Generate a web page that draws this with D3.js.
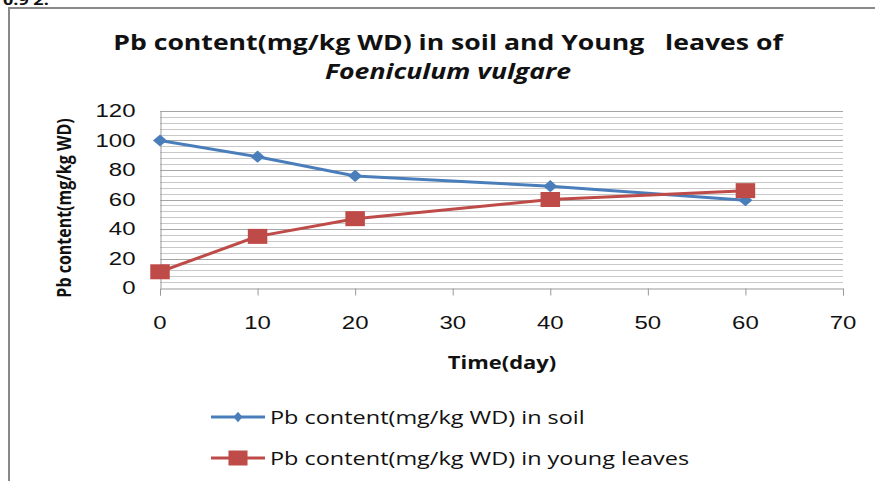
<!DOCTYPE html>
<html>
<head>
<meta charset="utf-8">
<script src="https://cdn.jsdelivr.net/npm/d3@7"></script>
<style>
  body { margin: 0; background: #fff; }
  svg { display: block; font-family: "Open Sans", "Noto Sans", sans-serif; }
</style>
</head>
<body>
<svg id="chart" width="875" height="481"></svg>
<script>
// data
const days = [0, 10, 20, 40, 60];
const soil = [100, 89, 76, 69, 59.5];
const youngLeaves = [11, 35, 47, 60, 66];
const xTicks = [0, 10, 20, 30, 40, 50, 60, 70];
const yTicks = [0, 20, 40, 60, 80, 100, 120];
const seriesNames = [
  "Pb content(mg/kg WD) in soil",
  "Pb content(mg/kg WD) in young leaves"
];
const colors = ["#4a7ebb", "#be4b48"];

// the source image is stretched sideways, so text is drawn wider than tall
function wideText(parent, x, y, str, size, sx, anchor) {
  return parent.append("g")
    .attr("transform", `translate(${x},${y}) scale(${sx},1)`)
    .append("text")
    .attr("text-anchor", anchor || "start")
    .style("font-size", size + "px")
    .attr("fill", "#111")
    .text(str);
}

const svg = d3.select("#chart");

// page frame and the cut-off caption above it
wideText(svg, 3, 5, "0.9 2.", 15, 1.2).style("font-weight", "bold");
svg.append("line").attr("x1", 8).attr("x2", 875).attr("y1", 8).attr("y2", 8)
  .attr("stroke", "#888").attr("stroke-width", 2);
svg.append("line").attr("x1", 9).attr("x2", 9).attr("y1", 8).attr("y2", 481)
  .attr("stroke", "#888").attr("stroke-width", 2);

// plot area
const margin = { top: 111, left: 160 };
const width = 683, height = 177;

const x = d3.scaleLinear().domain([0, 70]).range([0, width]);
const y = d3.scaleLinear().domain([0, 120]).range([height, 0]);

const chart = svg.append("g")
  .attr("transform", `translate(${margin.left},${margin.top})`);

// gridlines, minor every 4, major every 20
const gridVals = d3.range(4, 121, 4);
chart.append("g").selectAll("line")
  .data(gridVals)
  .join("line")
  .attr("x1", 0).attr("x2", width)
  .attr("y1", d => Math.round(y(d)) + 0.5).attr("y2", d => Math.round(y(d)) + 0.5)
  .attr("stroke", d => d % 20 === 0 ? "#a6a6a6" : "#c8c8c8");

// x axis
const xAxis = chart.append("g")
  .attr("transform", `translate(0,${height + 0.5})`)
  .call(d3.axisBottom(x).tickValues(xTicks).tickSize(7).tickFormat(""))
  .call(g => g.select(".domain").attr("stroke", "#999"))
  .call(g => g.selectAll(".tick line").attr("stroke", "#999"));
xTicks.forEach(t => {
  wideText(xAxis, x(t), 40, t, 17.5, 1.37, "middle");
});

// y axis
const yAxis = chart.append("g")
  .attr("transform", "translate(0.5,0)")
  .call(d3.axisLeft(y).tickValues(yTicks).tickSize(0).tickFormat(""))
  .call(g => g.select(".domain").attr("stroke", "#999"));
yTicks.forEach(t => {
  wideText(yAxis, -25, y(t) + 6, t, 17.5, 1.37, "end");
});

// lines and markers
const allSeries = [soil, youngLeaves];
const line = d3.line()
  .x((d, i) => x(days[i]))
  .y(d => y(d));

const diamond = d3.symbol().type(d3.symbolDiamond2).size(95);
const square = d3.symbol().type(d3.symbolSquare).size(225);
const shapes = [diamond, square];
const shapeStretch = [1.15, 1.3];

allSeries.forEach((vals, s) => {
  chart.append("path")
    .datum(vals)
    .attr("fill", "none")
    .attr("stroke", colors[s])
    .attr("stroke-width", 3)
    .attr("d", line);
  chart.append("g").selectAll("path")
    .data(vals)
    .join("path")
    .attr("transform", (d, i) => `translate(${x(days[i])},${y(d)}) scale(${shapeStretch[s]},1)`)
    .attr("d", shapes[s]())
    .attr("fill", colors[s]);
});

// titles
wideText(svg, 448, 50, "Pb content(mg/kg WD) in soil and Young   leaves of", 22, 1.21, "middle")
  .attr("xml:space", "preserve")
  .style("font-weight", "bold");
wideText(svg, 448, 79, "Foeniculum vulgare", 22, 1.21, "middle")
  .style("font-weight", "bold").style("font-style", "italic");

wideText(svg, 502, 369, "Time(day)", 18, 1.22, "middle").style("font-weight", "bold");

svg.append("g")
  .attr("transform", "translate(71,208) scale(1.2,1) rotate(-90)")
  .append("text")
  .attr("text-anchor", "middle")
  .style("font-size", "16px").style("font-weight", "bold").attr("fill", "#111")
  .text("Pb content(mg/kg WD)");

// legend
const legendShapes = [
  d3.symbol().type(d3.symbolDiamond2).size(72),
  d3.symbol().type(d3.symbolSquare).size(225)
];
const legendStretch = [0.85, 1.27];
const legend = svg.append("g").attr("transform", "translate(211,417)");
seriesNames.forEach((name, s) => {
  const row = legend.append("g").attr("transform", `translate(0,${s * 41})`);
  row.append("line").attr("x1", 0).attr("x2", 54)
    .attr("stroke", colors[s]).attr("stroke-width", 3);
  row.append("path").attr("transform", `translate(27,0) scale(${legendStretch[s]},1)`)
    .attr("d", legendShapes[s]()).attr("fill", colors[s]);
  wideText(row, 59, 7, name, 19, 1.235);
});
</script>
</body>
</html>
